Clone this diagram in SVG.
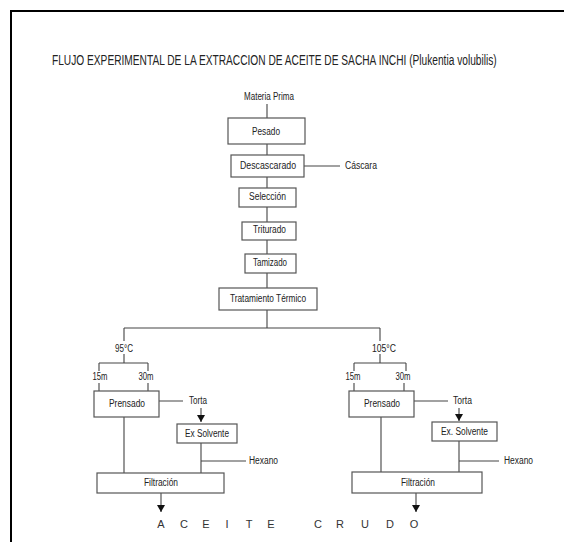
<svg xmlns="http://www.w3.org/2000/svg" width="564" height="542" viewBox="0 0 564 542">
<defs>
<style>
text{font-family:"Liberation Sans",Arial,sans-serif;fill:#222;}
.t{font-size:10px;text-anchor:middle;}
.s{font-size:10px;}
.box{fill:#fff;stroke:#555;stroke-width:1.2;}
.ln{stroke:#444;stroke-width:1.1;fill:none;}
.big{font-size:11px;fill:#333;text-anchor:middle;}
</style>
<marker id="ah" viewBox="0 0 7 8" refX="7" refY="4" markerWidth="7" markerHeight="8" markerUnits="userSpaceOnUse" orient="auto">
<path d="M0,0 L7,4 L0,8 Z" fill="#111"/>
</marker>
</defs>
<rect width="564" height="542" fill="#fff"/>
<path d="M11,542 V11 H564" fill="none" stroke="#000" stroke-width="2"/>
<g id="title" transform="translate(52,65) scale(0.75 1)"><text x="0" y="0" font-size="14.5" textLength="593" lengthAdjust="spacingAndGlyphs">FLUJO EXPERIMENTAL DE LA EXTRACCION DE ACEITE DE SACHA INCHI (Plukentia volubilis)</text></g>

<g id="connectors">
<path class="ln" d="M267,104 V118 M267,144 V155 M304,166 H340 M267,177 V188 M267,207 V222 M267,240 V254 M267,273 V288 M267,310 V328 M124,328 H380"/>
<path class="ln" d="M124,328 V341 M124,354 V363 M99,363 H148 M99,363 V371 M148,363 V371 M99,383 V391 M148,383 V391"/>
<path class="ln" d="M159,401 H183 M124,417 V473 M201,443 V473 M201,461 H246"/>
<path class="ln" d="M201,408 V422" marker-end="url(#ah)"/>
<path class="ln" d="M161,493 V512" marker-end="url(#ah)"/>
<path class="ln" d="M380,328 V341 M380,354 V363 M354,363 H406 M354,363 V371 M406,363 V371 M354,383 V391 M404,383 V391"/>
<path class="ln" d="M414,401 H448 M381,417 V472 M459,441 V472 M459,461 H499"/>
<path class="ln" d="M459,408 V421" marker-end="url(#ah)"/>
<path class="ln" d="M416,493 V512" marker-end="url(#ah)"/>
</g>

<g id="materia-prima"><text class="t" x="269" y="100" textLength="50" lengthAdjust="spacingAndGlyphs">Materia Prima</text></g>
<g id="pesado"><rect class="box" x="228" y="118" width="77" height="26"/><text class="t" x="266" y="135" textLength="28" lengthAdjust="spacingAndGlyphs">Pesado</text></g>
<g id="descascarado"><rect class="box" x="231" y="155" width="73" height="22"/><text class="t" x="268" y="169" textLength="56" lengthAdjust="spacingAndGlyphs">Descascarado</text></g>
<g id="cascara"><text class="s" x="345" y="169" textLength="32" lengthAdjust="spacingAndGlyphs">Cáscara</text></g>
<g id="seleccion"><rect class="box" x="239" y="188" width="57" height="19"/><text class="t" x="267.5" y="200" textLength="37" lengthAdjust="spacingAndGlyphs">Selección</text></g>
<g id="triturado"><rect class="box" x="242" y="222" width="54" height="18"/><text class="t" x="269.5" y="233" textLength="33" lengthAdjust="spacingAndGlyphs">Triturado</text></g>
<g id="tamizado"><rect class="box" x="245" y="254" width="51" height="19"/><text class="t" x="270" y="266" textLength="34" lengthAdjust="spacingAndGlyphs">Tamizado</text></g>
<g id="tratamiento"><rect class="box" x="219" y="288" width="98" height="22"/><text class="t" x="268" y="302" textLength="76" lengthAdjust="spacingAndGlyphs">Tratamiento Térmico</text></g>

<g id="t95"><text class="t" x="124" y="352" textLength="18" lengthAdjust="spacingAndGlyphs">95°C</text></g>
<g id="l15a"><text class="t" x="100" y="380" textLength="15" lengthAdjust="spacingAndGlyphs">15m</text></g>
<g id="l30a"><text class="t" x="146" y="380" textLength="15" lengthAdjust="spacingAndGlyphs">30m</text></g>
<g id="prensado-l"><rect class="box" x="94" y="391" width="65" height="26"/><text class="t" x="127" y="407" textLength="36" lengthAdjust="spacingAndGlyphs">Prensado</text></g>
<g id="torta-l"><text class="s" x="189" y="404" textLength="18" lengthAdjust="spacingAndGlyphs">Torta</text></g>
<g id="exsolvente-l"><rect class="box" x="177" y="424" width="60" height="19"/><text class="t" x="207" y="437" textLength="44" lengthAdjust="spacingAndGlyphs">Ex Solvente</text></g>
<g id="hexano-l"><text class="s" x="249" y="464" textLength="29" lengthAdjust="spacingAndGlyphs">Hexano</text></g>
<g id="filtracion-l"><rect class="box" x="97" y="473" width="127" height="20"/><text class="t" x="161" y="486" textLength="34" lengthAdjust="spacingAndGlyphs">Filtración</text></g>

<g id="t105"><text class="t" x="384" y="352" textLength="24" lengthAdjust="spacingAndGlyphs">105°C</text></g>
<g id="l15b"><text class="t" x="353" y="380" textLength="15" lengthAdjust="spacingAndGlyphs">15m</text></g>
<g id="l30b"><text class="t" x="403" y="380" textLength="15" lengthAdjust="spacingAndGlyphs">30m</text></g>
<g id="prensado-r"><rect class="box" x="349" y="391" width="65" height="26"/><text class="t" x="382" y="407" textLength="36" lengthAdjust="spacingAndGlyphs">Prensado</text></g>
<g id="torta-r"><text class="s" x="453" y="404" textLength="19" lengthAdjust="spacingAndGlyphs">Torta</text></g>
<g id="exsolvente-r"><rect class="box" x="432" y="422" width="65" height="19"/><text class="t" x="464.5" y="435" textLength="47" lengthAdjust="spacingAndGlyphs">Ex. Solvente</text></g>
<g id="hexano-r"><text class="s" x="504" y="464" textLength="29" lengthAdjust="spacingAndGlyphs">Hexano</text></g>
<g id="filtracion-r"><rect class="box" x="352" y="472" width="130" height="21"/><text class="t" x="418" y="486" textLength="34" lengthAdjust="spacingAndGlyphs">Filtración</text></g>

<g id="aceite-crudo"><text class="big" x="161 184 206 227 249 271 318 340 365 390 414" y="528">ACEITECRUDO</text></g>
</svg>
